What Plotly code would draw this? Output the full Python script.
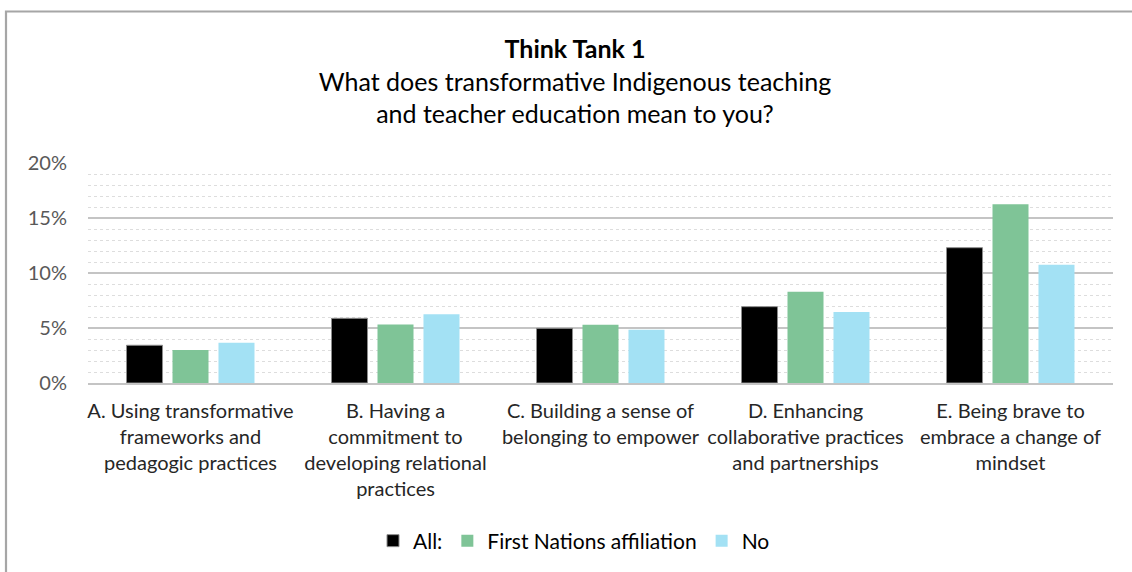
import plotly.graph_objects as go

categories = [
    "A. Using transformative<br>frameworks and<br>pedagogic practices",
    "B. Having a<br>commitment to<br>developing relational<br>practices",
    "C. Building a sense of<br>belonging to empower",
    "D. Enhancing<br>collaborative practices<br>and partnerships",
    "E. Being brave to<br>embrace a change of<br>mindset",
]
all_vals = [0.0343, 0.0588, 0.0497, 0.0694, 0.1230]
first_nations = [0.0300, 0.0532, 0.0530, 0.0830, 0.1625]
no_vals = [0.0366, 0.0624, 0.0485, 0.0645, 0.1075]
series_names = ["All:", "First Nations affiliation", "No"]

FONT = "Lato"
W, H = 1132, 572
ml, mt = 88, 163
pw, ph = 1025, 220
mr = W - ml - pw
mb = H - mt - ph

fig = go.Figure()
fig.add_trace(go.Bar(x=categories, y=all_vals, name=series_names[0],
                     marker=dict(color="#000000", line=dict(color="#8c8c8c", width=1))))
fig.add_trace(go.Bar(x=categories, y=first_nations, name=series_names[1],
                     marker=dict(color="#7fc497", line=dict(width=0))))
fig.add_trace(go.Bar(x=categories, y=no_vals, name=series_names[2],
                     marker=dict(color="#a3e1f4", line=dict(width=0))))


def px_x(x):
    return (x - ml) / pw


def px_y(y):
    return (mt + ph - y) / ph


fig.add_shape(type="path",
              path=f"M {px_x(6)} {px_y(600)} L {px_x(6)} {px_y(11.5)} L {px_x(1160)} {px_y(11.5)}",
              xref="paper", yref="paper", line=dict(color="#a6a6a6", width=2.2),
              layer="below")

fig.update_layout(
    width=W, height=H,
    margin=dict(l=ml, r=mr, t=mt, b=mb, autoexpand=False),
    paper_bgcolor="white", plot_bgcolor="white",
    barmode="group", bargap=0.327, bargroupgap=0.217,
    font=dict(family=FONT, color="#404040"),
    title=dict(
        text="<b>Think Tank 1</b><br>What does transformative Indigenous teaching<br>and teacher education mean to you?",
        x=575 / W, xanchor="center", xref="container",
        y=1 - 58 / H, yanchor="top", yref="container",
        font=dict(family=FONT, size=25, color="#000000"),
    ),
    legend=dict(orientation="h", x=px_x(574), xanchor="center",
                y=px_y(541), yanchor="middle",
                font=dict(family=FONT, size=21, color="#000000"),
                itemwidth=30, traceorder="normal"),
    showlegend=True,
)
fig.update_yaxes(range=[0, 0.2], dtick=0.05, tickformat=".0%",
                 showgrid=True, gridcolor="#c4c4c4", gridwidth=1.5,
                 minor=dict(dtick=0.01, showgrid=True, gridcolor="#dddddd",
                            griddash="dot", gridwidth=1),
                 zeroline=False, showline=False,
                 tickfont=dict(family=FONT, size=20, color="#595959"),
                 ticklabelstandoff=20, fixedrange=True)
fig.update_xaxes(showline=True, linecolor="#c4c4c4", linewidth=1.5,
                 tickfont=dict(family=FONT, size=20, color="#262626"),
                 ticklabelstandoff=9, tickangle=0, fixedrange=True)

fig.write_html("out.html", config={"displayModeBar": False},
               post_script="document.body.style.margin='0px';document.body.style.overflow='hidden';")
